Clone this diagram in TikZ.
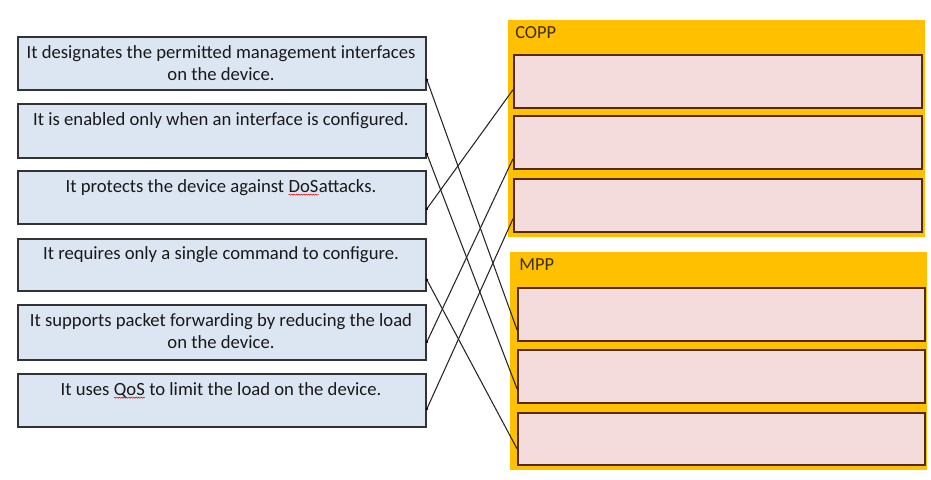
\documentclass[tikz,border=0pt]{standalone}
\usepackage{fontspec}
\setmainfont{Carlito}
\usetikzlibrary{calc,decorations.pathmorphing,decorations.markings}
\definecolor{boxblue}{HTML}{DCE6F2}
\definecolor{boxedge}{HTML}{333333}
\definecolor{gold}{HTML}{FFC000}
\definecolor{pinkfill}{HTML}{F5DCDC}
\definecolor{pinkedge}{HTML}{552A10}
\definecolor{labelcol}{HTML}{3D2E0A}
\newcommand\spellmark[1]{\tikz[baseline=(sw.base)]{\node[inner sep=0pt,outer sep=0pt,anchor=base,draw=none,fill=none](sw){#1};\draw[red!85!black,line width=0.35pt,decorate,decoration={snake,amplitude=0.45pt,segment length=1.8pt}]([yshift=-2pt]sw.base west)--([yshift=-2pt]sw.base east);}}
\tikzset{
  leftbox/.style={draw=boxedge, fill=boxblue, line width=1.4pt, rectangle, anchor=north west, inner sep=0pt, minimum width=408*0.75pt},
  panel/.style={fill=gold, rectangle, anchor=north west, inner sep=0pt, minimum width=417*0.75pt},
  pinkbox/.style={draw=pinkedge, fill=pinkfill, line width=1.3pt, rectangle, anchor=north west, inner sep=0pt},
  itemtext/.style={font=\fontsize{14}{16.5}\selectfont, align=center, anchor=base, inner sep=0pt, text=black!90},
  grouplabel/.style={font=\fontsize{13.8}{15}\selectfont, anchor=base west, inner sep=0pt, text=labelcol},
  link/.style={draw=black!85, line width=0.8pt, postaction={decorate}, decoration={markings, mark=at position 0 with {\fill[black] (0,0) circle (1.1pt);}}}
}
\begin{document}
\begin{tikzpicture}[x=0.75pt,y=-0.75pt]
\useasboundingbox (0,0) rectangle (931,479);
% left statements
\node[leftbox, minimum height=53*0.75pt] (b1) at (17,36) {};
\node[leftbox, minimum height=54*0.75pt] (b2) at (17,103) {};
\node[leftbox, minimum height=53*0.75pt] (b3) at (17,170) {};
\node[leftbox, minimum height=52*0.75pt] (b4) at (17,238) {};
\node[leftbox, minimum height=55*0.75pt] (b5) at (17,304) {};
\node[leftbox, minimum height=53*0.75pt] (b6) at (17,373) {};
\node[itemtext] (t1) at (221,80) {It designates the permitted management interfaces\\on the device.};
\node[itemtext] (t2) at (221,125) {It is enabled only when an interface is configured.};
\node[itemtext] (t3) at (221,192) {It protects the device against \spellmark{DoS}attacks.};
\node[itemtext] (t4) at (221,259) {It requires only a single command to configure.};
\node[itemtext] (t5) at (221,348) {It supports packet forwarding by reducing the load\\on the device.};
\node[itemtext] (t6) at (221,395) {It uses \spellmark{QoS} to limit the load on the device.};
% COPP panel
\node[panel, minimum height=217*0.75pt] (copp) at (508,20) {};
\node[grouplabel] (coppl) at (515,38) {COPP};
\node[pinkbox, minimum width=408*0.75pt, minimum height=53*0.75pt] (c1) at (513,54) {};
\node[pinkbox, minimum width=408*0.75pt, minimum height=53*0.75pt] (c2) at (513,115) {};
\node[pinkbox, minimum width=408*0.75pt, minimum height=53*0.75pt] (c3) at (513,178) {};
% MPP panel
\node[panel, minimum height=218*0.75pt] (mpp) at (510,252) {};
\node[grouplabel] (mppl) at (519,270) {MPP};
\node[pinkbox, minimum width=407*0.75pt, minimum height=53*0.75pt] (m1) at (517,287) {};
\node[pinkbox, minimum width=407*0.75pt, minimum height=53*0.75pt] (m2) at (517,349) {};
\node[pinkbox, minimum width=407*0.75pt, minimum height=52*0.75pt] (m3) at (517,412) {};
% connectors
\draw[link] ($(b1.south east)+(0,-11)$) -- ($(m1.south west)+(0,-12)$);
\draw[link] ($(b2.south east)+(0,-5)$) -- ($(m2.south west)+(0,-15)$);
\draw[link] ($(b3.south east)+(0,-16)$) -- ($(c1.south west)+(0,-19)$);
\draw[link] ($(b4.south east)+(0,-12)$) -- ($(m3.south west)+(0,-17)$);
\draw[link] ($(b5.south east)+(0,-19)$) -- ($(c2.south west)+(0,-11)$);
\draw[link] ($(b6.south east)+(0,-19)$) -- ($(c3.south west)+(0,-14)$);
\end{tikzpicture}
\end{document}
